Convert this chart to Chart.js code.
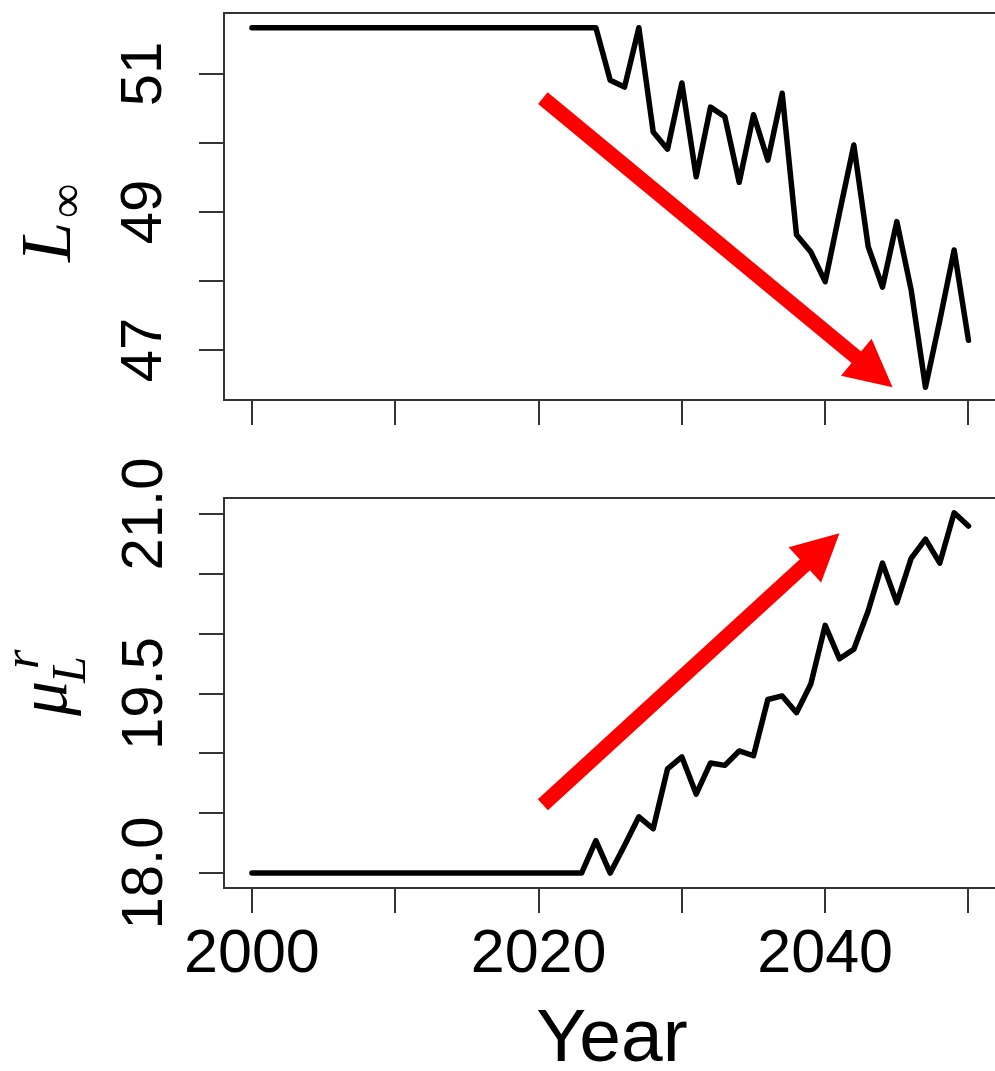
<!DOCTYPE html>
<html>
<head>
<meta charset="utf-8">
<script src="https://cdn.jsdelivr.net/npm/chart.js@4/dist/chart.umd.min.js"></script>
<style>
  html, body { margin: 0; padding: 0; background: #fff; overflow: hidden; width: 995px; height: 1071px; }
  #wrap { position: relative; width: 995px; height: 1071px; overflow: hidden; }
  canvas { position: absolute; left: 0; }
  #topChart { top: 0; }
  #bottomChart { top: 440px; }
</style>
</head>
<body>
<div id="wrap">
  <canvas id="topChart" width="1010" height="440"></canvas>
  <canvas id="bottomChart" width="1010" height="631"></canvas>
</div>
<script>
const years = [2000, 2001, 2002, 2003, 2004, 2005, 2006, 2007, 2008, 2009,
  2010, 2011, 2012, 2013, 2014, 2015, 2016, 2017, 2018, 2019,
  2020, 2021, 2022, 2023, 2024, 2025, 2026, 2027, 2028, 2029,
  2030, 2031, 2032, 2033, 2034, 2035, 2036, 2037, 2038, 2039,
  2040, 2041, 2042, 2043, 2044, 2045, 2046, 2047, 2048, 2049, 2050];

// L-infinity
const linf = [51.67, 51.67, 51.67, 51.67, 51.67, 51.67, 51.67, 51.67, 51.67, 51.67,
  51.67, 51.67, 51.67, 51.67, 51.67, 51.67, 51.67, 51.67, 51.67, 51.67,
  51.67, 51.67, 51.67, 51.67, 51.67, 50.91, 50.81, 51.67, 50.16, 49.91,
  50.87, 49.51, 50.52, 50.38, 49.43, 50.41, 49.75, 50.72, 48.67, 48.42,
  47.99, 48.99, 49.97, 48.50, 47.91, 48.86, 47.87, 46.46, 47.43, 48.45, 47.14];

// mu_L^r
const muL = [18.0, 18.0, 18.0, 18.0, 18.0, 18.0, 18.0, 18.0, 18.0, 18.0,
  18.0, 18.0, 18.0, 18.0, 18.0, 18.0, 18.0, 18.0, 18.0, 18.0,
  18.0, 18.0, 18.0, 18.0, 18.27, 18.0, 18.23, 18.47, 18.37, 18.87,
  18.97, 18.66, 18.92, 18.90, 19.02, 18.98, 19.45, 19.48, 19.34, 19.58,
  20.07, 19.79, 19.87, 20.19, 20.59, 20.26, 20.63, 20.79, 20.59, 21.01, 20.90];

const yearLabels = [2000, 2020, 2040];
const linfLabels = [47, 49, 51];
const muLabels = [18.0, 19.5, 21.0];

// trend arrows (data coords: start, tip)
const linfArrow = [{ x: 2020.3, y: 50.65 }, { x: 2044.7, y: 46.46 }];
const muArrow = [{ x: 2020.3, y: 18.57 }, { x: 2041.0, y: 20.84 }];

const axisColor = '#333';
const sansFamily = '"Liberation Sans", Arial, sans-serif';
const serifFamily = '"Liberation Serif", "Times New Roman", serif';

function isLabelled(v, list) {
  return list.some(t => Math.abs(t - v) < 1e-6);
}

const boxPlugin = {
  id: 'box',
  afterDraw(chart) {
    const { ctx, chartArea: a } = chart;
    ctx.save();
    ctx.strokeStyle = axisColor;
    ctx.lineWidth = 2;
    ctx.strokeRect(a.left, a.top, a.right - a.left, a.bottom - a.top);
    ctx.restore();
  }
};

function arrowPlugin(pts) {
  return {
    id: 'arrow',
    afterDatasetsDraw(chart) {
      const { ctx, scales: { x, y } } = chart;
      const x0 = x.getPixelForValue(pts[0].x), y0 = y.getPixelForValue(pts[0].y);
      const x1 = x.getPixelForValue(pts[1].x), y1 = y.getPixelForValue(pts[1].y);
      const len = Math.hypot(x1 - x0, y1 - y0);
      const headLen = 47, headW = 48, shaftW = 15;
      ctx.save();
      ctx.translate(x0, y0);
      ctx.rotate(Math.atan2(y1 - y0, x1 - x0));
      ctx.fillStyle = '#ff0000';
      ctx.fillRect(0, -shaftW / 2, len - headLen + 2, shaftW);
      ctx.beginPath();
      ctx.moveTo(len, 0);
      ctx.lineTo(len - headLen, -headW / 2);
      ctx.lineTo(len - headLen, headW / 2);
      ctx.closePath();
      ctx.fill();
      ctx.restore();
    }
  };
}

// y titles with sub/superscripts, drawn rotated
const linfTitle = {
  id: 'linfTitle',
  afterDraw(chart) {
    const { ctx, chartArea: a } = chart;
    ctx.save();
    ctx.translate(a.left - 154, a.top + 249);
    ctx.rotate(-Math.PI / 2);
    ctx.fillStyle = '#000';
    ctx.textBaseline = 'alphabetic';
    ctx.font = 'italic 72px ' + serifFamily;
    ctx.fillText('L', 0, 0);
    const w = ctx.measureText('L').width;
    ctx.font = '48px ' + serifFamily;
    ctx.fillText('\u221E', w + 4, 12);
    ctx.restore();
  }
};

const muTitle = {
  id: 'muTitle',
  afterDraw(chart) {
    const { ctx, chartArea: a } = chart;
    ctx.save();
    ctx.translate(a.left - 158, a.top + 218);
    ctx.rotate(-Math.PI / 2);
    ctx.fillStyle = '#000';
    ctx.textBaseline = 'alphabetic';
    ctx.font = 'italic 70px ' + serifFamily;
    ctx.fillText('\u03BC', 0, 0);
    ctx.font = 'italic 48px ' + serifFamily;
    ctx.fillText('L', 33, 19);
    ctx.font = 'italic 50px ' + serifFamily;
    ctx.fillText('r', 47, -28);
    ctx.restore();
  }
};

function lineDataset(values) {
  return {
    data: years.map((yr, i) => ({ x: yr, y: values[i] })),
    borderColor: '#000',
    borderWidth: 5.5,
    pointRadius: 0,
    tension: 0,
    borderJoinStyle: 'round',
    borderCapStyle: 'round'
  };
}

function gridOpts() {
  return { drawOnChartArea: false, tickLength: 25, tickColor: axisColor, lineWidth: 2, color: axisColor };
}

// keep the y axis at a fixed width and stop rotated labels from padding the chart area
function fixYAxis(s) {
  s.width = 224;
  s.paddingTop = 0;
  s.paddingBottom = 0;
}

new Chart(document.getElementById('topChart'), {
  type: 'line',
  data: { datasets: [lineDataset(linf)] },
  options: {
    responsive: false,
    animation: false,
    devicePixelRatio: 1,
    layout: { padding: { top: 13, right: 10, left: 0, bottom: 0 } },
    plugins: { legend: { display: false }, tooltip: { enabled: false } },
    scales: {
      x: {
        type: 'linear',
        min: 1998.05,
        max: 2052.2,
        grid: gridOpts(),
        border: { display: false },
        ticks: { stepSize: 10, includeBounds: false, autoSkip: false, maxRotation: 0, callback: () => '' },
        afterFit: s => { s.height = 40; s.paddingLeft = 0; s.paddingRight = 0; }
      },
      y: {
        min: 46.275,
        max: 51.884,
        grid: gridOpts(),
        border: { display: false },
        ticks: {
          stepSize: 1, includeBounds: false, autoSkip: false,
          minRotation: 90, maxRotation: 90, crossAlign: 'center', padding: 22,
          color: '#000', font: { family: sansFamily, size: 58 },
          callback: v => isLabelled(v, linfLabels) ? String(v) : ''
        },
        afterFit: fixYAxis
      }
    }
  },
  plugins: [boxPlugin, arrowPlugin(linfArrow), linfTitle]
});

new Chart(document.getElementById('bottomChart'), {
  type: 'line',
  data: { datasets: [lineDataset(muL)] },
  options: {
    responsive: false,
    animation: false,
    devicePixelRatio: 1,
    layout: { padding: { top: 58, right: 10, left: 0, bottom: 0 } },
    plugins: { legend: { display: false }, tooltip: { enabled: false } },
    scales: {
      x: {
        type: 'linear',
        min: 1998.05,
        max: 2052.2,
        grid: gridOpts(),
        border: { display: false },
        ticks: {
          stepSize: 10, includeBounds: false, autoSkip: false, maxRotation: 0, minRotation: 0,
          padding: 6, color: '#000', font: { family: sansFamily, size: 61 },
          callback: v => isLabelled(v, yearLabels) ? String(v) : ''
        },
        title: {
          display: true, text: 'Year', color: '#000',
          font: { family: sansFamily, size: 75, lineHeight: 0.8 },
          padding: { top: 0, bottom: 1 }
        },
        afterFit: s => { s.height = 183; s.paddingLeft = 0; s.paddingRight = 0; }
      },
      y: {
        min: 17.875,
        max: 21.134,
        grid: gridOpts(),
        border: { display: false },
        ticks: {
          stepSize: 0.5, includeBounds: false, autoSkip: false,
          minRotation: 90, maxRotation: 90, crossAlign: 'center', padding: -3,
          color: '#000', font: { family: sansFamily, size: 58 },
          callback: v => isLabelled(v, muLabels) ? v.toFixed(1) : ''
        },
        afterFit: fixYAxis
      }
    }
  },
  plugins: [boxPlugin, arrowPlugin(muArrow), muTitle]
});
</script>
</body>
</html>
